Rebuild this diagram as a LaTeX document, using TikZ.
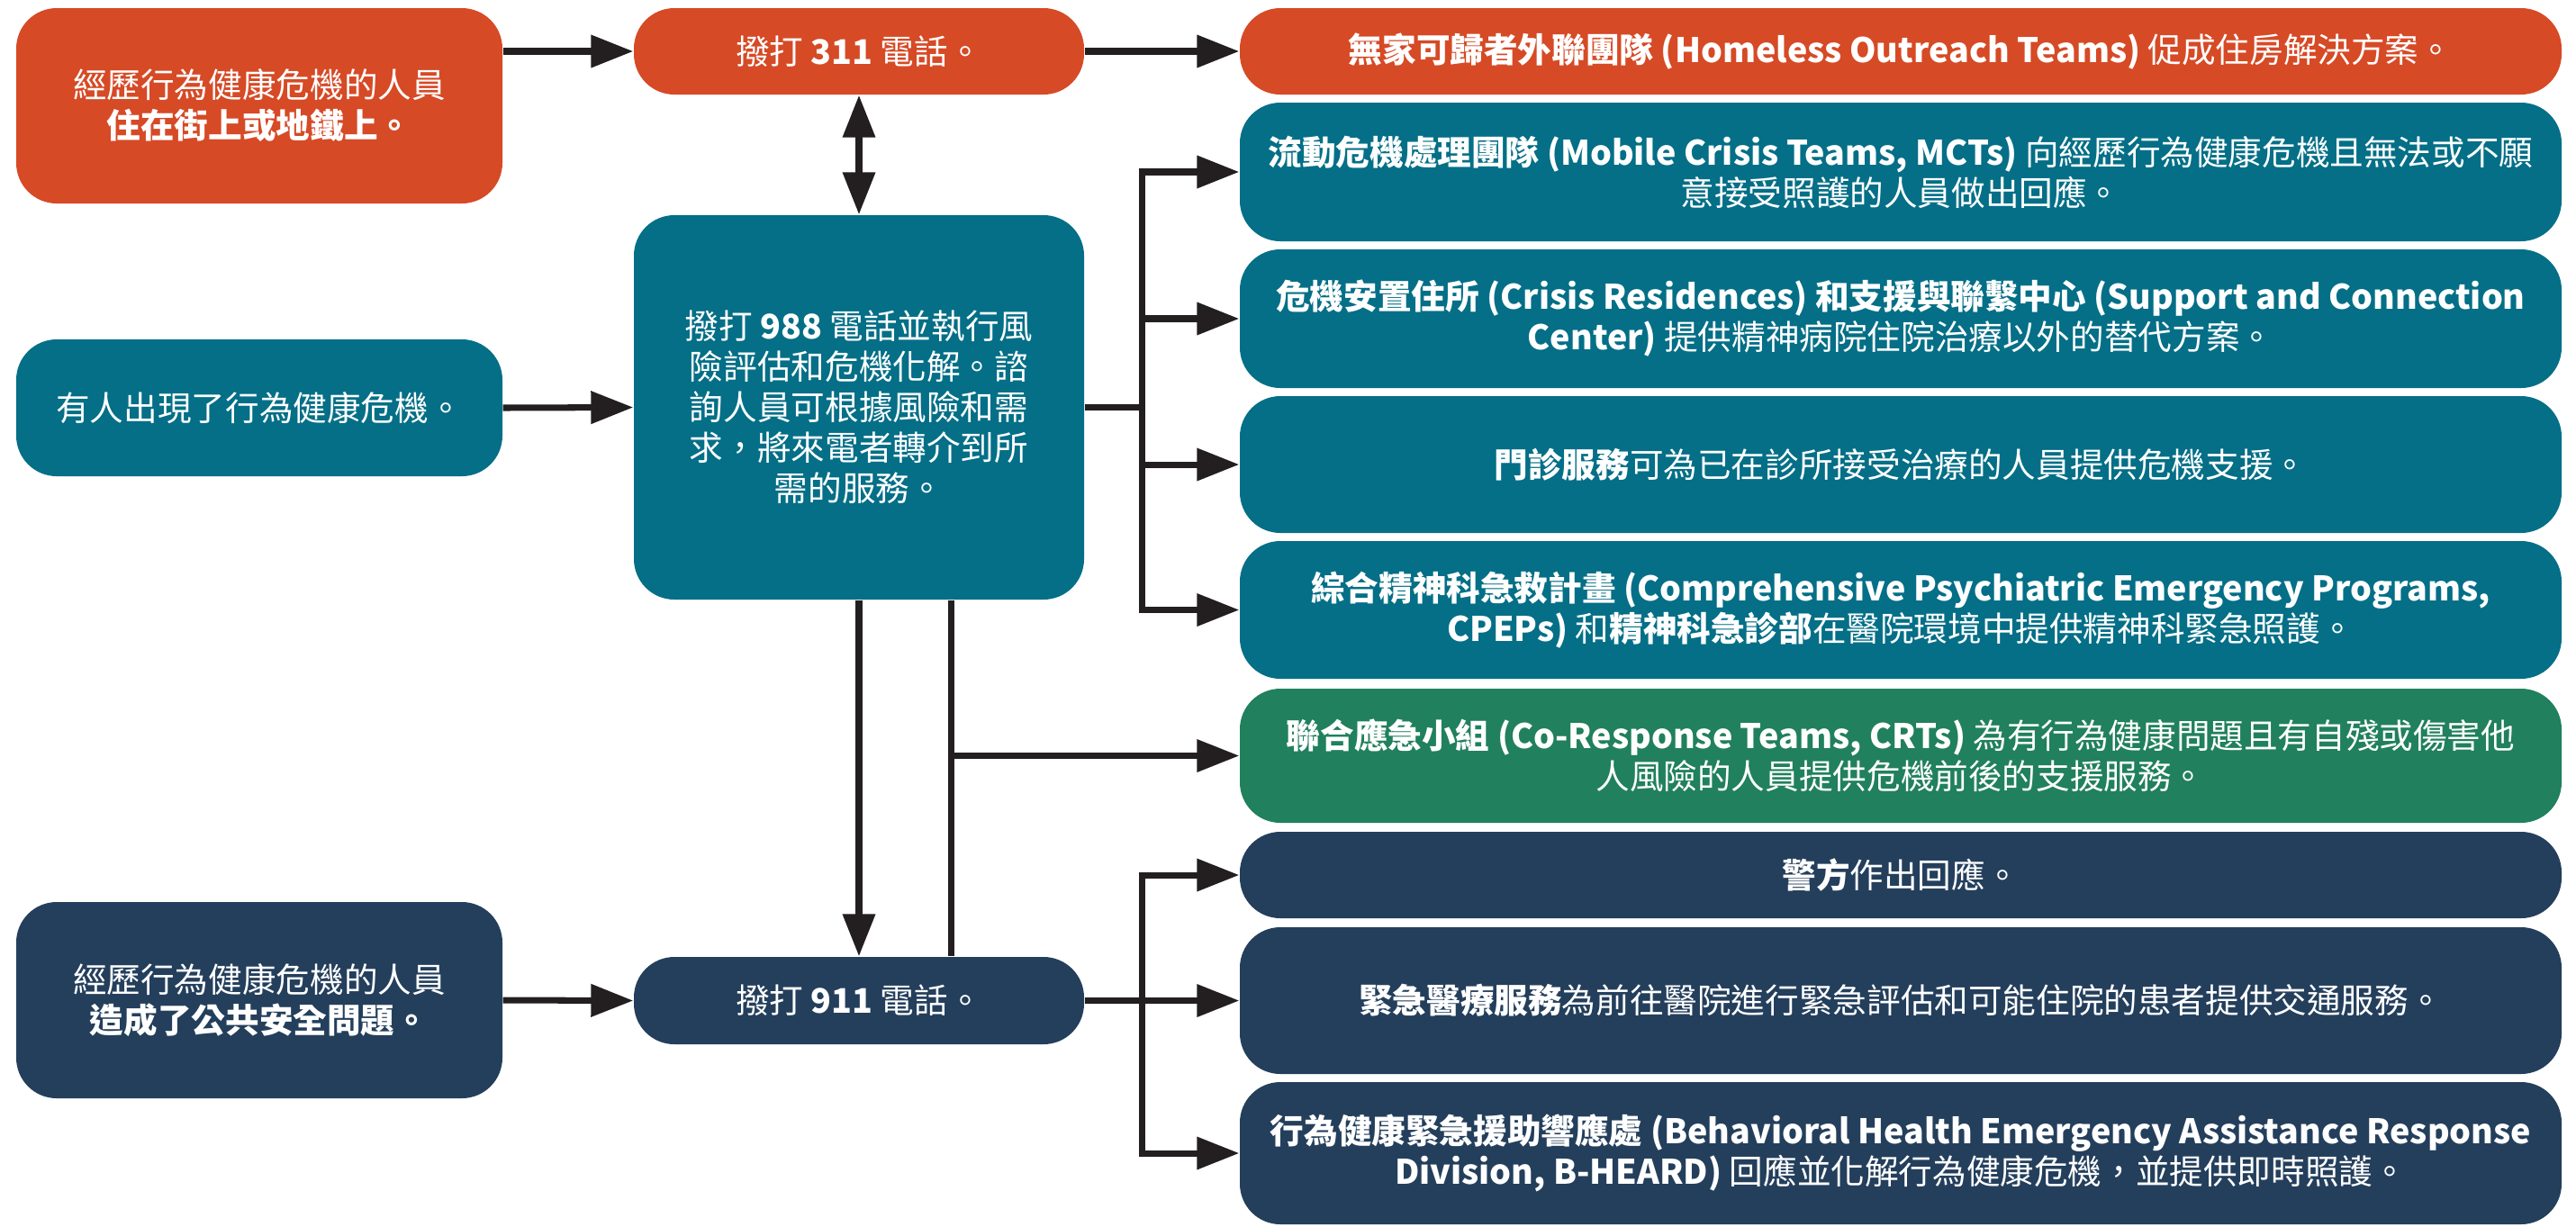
\documentclass[tikz,border=0pt]{standalone}
\usepackage{fontspec}
\setmainfont{Noto Sans CJK TC}
\usetikzlibrary{arrows.meta}

\definecolor{crisisred}{HTML}{D64A26}
\definecolor{crisisteal}{HTML}{046F87}
\definecolor{crisisgreen}{HTML}{21805E}
\definecolor{crisisnavy}{HTML}{243F5C}
\definecolor{arrowgray}{HTML}{231F20}

\begin{document}
\begin{tikzpicture}[
    box/.style={rounded corners=0.45cm, inner sep=0pt, text=white, align=center,
      font=\fontsize{10.7pt}{12.8pt}\selectfont},
    leftbox/.style={box, minimum width=5.4cm},
    callbox/.style={box, minimum width=5.0cm},
    svcbox/.style={box, minimum width=14.68cm},
    link/.style={line width=2pt, draw=arrowgray},
    flow/.style={link, -{Triangle[length=0.47cm,width=0.35cm]}},
    both/.style={link, {Triangle[length=0.47cm,width=0.35cm]}-{Triangle[length=0.47cm,width=0.35cm]}}
  ]
    \useasboundingbox (0,0) rectangle (28.61,-13.62);

    % who is in crisis
    \node[leftbox, fill=crisisred, minimum height=2.17cm] (street) at (2.88,-1.175)
      {經歷行為健康危機的人員\\ \textbf{住在街上或地鐵上。}};
    \node[leftbox, fill=crisisteal, minimum height=1.52cm] (anyone) at (2.88,-4.53)
      {有人出現了行為健康危機。};
    \node[leftbox, fill=crisisnavy, minimum height=2.18cm] (safety) at (2.88,-11.11)
      {經歷行為健康危機的人員\\ \textbf{造成了公共安全問題。}};

    % which number is called
    \node[callbox, fill=crisisred, minimum height=0.96cm] (c311) at (9.54,-0.57)
      {撥打 \textbf{311} 電話。};
    \node[callbox, fill=crisisteal, minimum height=4.27cm] (c988) at (9.54,-4.525)
      {撥打 \textbf{988} 電話並執行風\\險評估和危機化解。諮\\詢人員可根據風險和需\\求，將來電者轉介到所\\需的服務。};
    \node[callbox, fill=crisisnavy, minimum height=0.97cm] (c911) at (9.54,-11.115)
      {撥打 \textbf{911} 電話。};

    % services
    \node[svcbox, fill=crisisred, minimum height=0.96cm] (hot) at (21.11,-0.57)
      {\textbf{無家可歸者外聯團隊 (Homeless Outreach Teams)} 促成住房解決方案。};
    \node[svcbox, fill=crisisteal, minimum height=1.54cm] (mct) at (21.11,-1.91)
      {\textbf{流動危機處理團隊 (Mobile Crisis Teams, MCTs)} 向經歷行為健康危機且無法或不願\\意接受照護的人員做出回應。};
    \node[svcbox, fill=crisisteal, minimum height=1.54cm] (cres) at (21.11,-3.54)
      {\textbf{危機安置住所 (Crisis Residences) 和支援與聯繫中心 (Support and Connection}\\\textbf{Center)} 提供精神病院住院治療以外的替代方案。};
    \node[svcbox, fill=crisisteal, minimum height=1.52cm] (opd) at (21.11,-5.16)
      {\textbf{門診服務}可為已在診所接受治療的人員提供危機支援。};
    \node[svcbox, fill=crisisteal, minimum height=1.53cm] (cpep) at (21.11,-6.775)
      {\textbf{綜合精神科急救計畫 (Comprehensive Psychiatric Emergency Programs,}\\\textbf{CPEPs)} 和\textbf{精神科急診部}在醫院環境中提供精神科緊急照護。};
    \node[svcbox, fill=crisisgreen, minimum height=1.49cm] (crt) at (21.11,-8.395)
      {\textbf{聯合應急小組 (Co-Response Teams, CRTs)} 為有行為健康問題且有自殘或傷害他\\人風險的人員提供危機前後的支援服務。};
    \node[svcbox, fill=crisisnavy, minimum height=0.96cm] (police) at (21.11,-9.72)
      {\textbf{警方}作出回應。};
    \node[svcbox, fill=crisisnavy, minimum height=1.63cm] (ems) at (21.11,-11.115)
      {\textbf{緊急醫療服務}為前往醫院進行緊急評估和可能住院的患者提供交通服務。};
    \node[svcbox, fill=crisisnavy, minimum height=1.58cm] (bheard) at (21.11,-12.81)
      {\textbf{行為健康緊急援助響應處 (Behavioral Health Emergency Assistance Response}\\\textbf{Division, B-HEARD)} 回應並化解行為健康危機，並提供即時照護。};

    % person -> call
    \draw[flow] (street.east |- c311.west) -- (c311.west);
    \draw[flow] (anyone.east) -- (c988.west);
    \draw[flow] (safety.east) -- (c911.west);

    % 311 line
    \draw[flow] (c311.east) -- (hot.west);
    \draw[both] (c311.south) -- (c988.north);

    % 988 line
    \coordinate (fork988) at ([xshift=0.64cm]c988.east);
    \draw[link] (c988.east) -- (fork988);
    \foreach \n in {mct,cres,opd,cpep} {\draw[flow] (fork988) |- (\n.west);}
    \draw[flow] (c988.south) -- (c911.north);
    \coordinate (crtup) at ([xshift=1.02cm]c988.south);
    \draw[link] (crtup) -- (crtup |- c911.north);
    \draw[flow] (crtup |- crt.west) -- (crt.west);

    % 911 line
    \coordinate (fork911) at ([xshift=0.64cm]c911.east);
    \draw[link] (c911.east) -- (fork911);
    \foreach \n in {police,ems,bheard} {\draw[flow] (fork911) |- (\n.west);}
  \end{tikzpicture}
\end{document}
